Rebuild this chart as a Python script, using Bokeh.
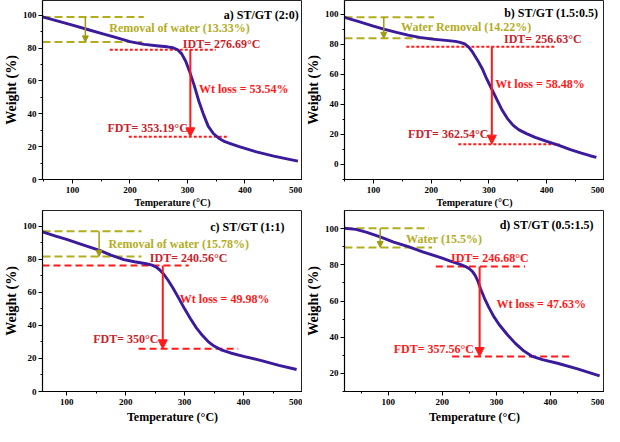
from bokeh.plotting import figure
from bokeh.models import Range1d, Label, Arrow, NormalHead, FixedTicker
from bokeh.layouts import column, row
from bokeh.embed import file_html
from bokeh.resources import INLINE

FONT = "Liberation Serif"
CURVE = "#3b1a9c"
OLIVE = "#b3ad1e"
OLIVE_ARROW = "#9f9a12"
RED = "#ff1a1a"
DARKRED = "#c8232c"

# ---------------- data ----------------
# a) ST/GT (2:0)
temp_a = [48, 75, 100, 125, 150, 175, 200, 225, 250, 265, 275, 283, 290, 297, 304, 312,
          320, 328, 336, 345, 355, 365, 377, 390, 420, 450, 475, 492]
wt_a = [99, 96.5, 94, 91.5, 89, 86.5, 84, 82.3, 81.3, 80.8, 80.2, 79, 76.5, 72, 65.5, 57,
        47.5, 39.5, 32.5, 28, 25, 23, 21.5, 20, 16.8, 14.2, 12.4, 11.2]
# b) ST/GT (1.5:0.5)
temp_b = [50, 75, 100, 118, 140, 160, 180, 202, 225, 242, 250, 258, 265, 272, 280, 288,
          296, 305, 314, 323, 332, 342, 352, 365, 380, 400, 420, 441, 460, 475, 486]
wt_b = [97.8, 95, 92, 90, 87.8, 86, 84.5, 83.3, 82.5, 81.8, 81.2, 80.2, 78, 74.5, 69.5, 64,
        57, 50, 43, 36, 30.5, 26, 23, 20.5, 18, 15.3, 12.8, 9.9, 7.5, 5.8, 4.7]
# c) ST/GT (1:1)
temp_c = [59, 80, 100, 125, 156, 175, 197, 215, 235, 245, 252, 258, 265, 272, 280, 290,
          300, 310, 320, 330, 340, 350, 362, 378, 400, 432, 460, 490]
wt_c = [96.5, 94.2, 92, 89, 85.4, 82.5, 79.8, 78.5, 77.3, 76.4, 75.2, 73.5, 70.8, 67.3, 62.8, 56.5,
        50, 44, 38.5, 34, 30.2, 27.5, 25.2, 23.3, 21.3, 18.5, 15.8, 13.3]
# d) ST/GT (0.5:1.5)
temp_d = [19, 40, 59, 85, 110, 137, 165, 197, 215, 233, 243, 250, 256, 261, 266, 271,
          278, 286, 295, 305, 320, 335, 350, 365, 385, 413, 450, 491]
wt_d = [100.2, 99.6, 98, 95.4, 92.5, 90, 87, 84, 82, 80.2, 79, 77.8, 76.2, 74, 70.8, 66.5,
        61.5, 56.5, 51.5, 47, 41.5, 36.6, 32.6, 29.6, 27.6, 25.6, 22.5, 18.6]

titles = ["a) ST/GT (2:0)", "b) ST/GT (1.5:0.5)", "c) ST/GT (1:1)", "d) ST/GT (0.5:1.5)"]
water_texts = ["Removal of water (13.33%)", "Water Removal (14.22%)",
               "Removal of water (15.78%)", "Water (15.5%)"]
idt_texts = ["IDT= 276.69°C", "IDT= 256.63°C", "IDT= 240.56°C", "IDT= 246.68°C"]
fdt_texts = ["FDT= 353.19°C", "FDT= 362.54°C", "FDT= 350°C", "FDT= 357.56°C"]
loss_texts = ["Wt loss = 53.54%", "Wt loss = 58.48%", "Wt loss = 49.98%", "Wt loss = 47.63%"]

# annotation levels / extents (data units)
water_top = [99, 97.8, 96.9, 100.2]
water_bot = [83.8, 83.9, 81.7, 89.6]
water_x0 = [48, 50, 59, 19]
water_x1_top = [224, 205, 227, 175]
water_x1_bot = [221, 205, 227, 181]
water_arrow_x = [122.5, 118, 155, 85]
water_text_x = [164, 148, 171, 133]
water_text_y = [92, 91.3, 89.4, 94]

idt_level = [79, 78.2, 76.3, 79.1]
idt_x0 = [165, 157, 59, 188]
idt_x1 = [349, 413, 307, 353]
idt_text_x = [292, 326, 241, 216]
idt_text_y = [82.5, 83.5, 80.5, 84]

fdt_level = [26, 13.5, 25.8, 29.3]
fdt_x0 = [198, 247, 222, 218]
fdt_x1 = [371, 422, 391, 437]
fdt_text_x = [161, 160, 145, 110]
fdt_text_y = [31.2, 20, 31.6, 33.5]

loss_arrow_x = [305, 305, 263, 269]
loss_text_x = [320, 311, 292, 300]
loss_text_y = [55, 53.4, 56, 58.2]

title_x = [494, 489, 470, 480]
title_y = [100.2, 100.8, 99.4, 102]

x_start = [48, 50, 59, 19]
x_end = 500
y_lo = [0, -10, 0, 10]
y_hi = [109, 109, 109.5, 110]

x_major = [100, 200, 300, 400, 500]
x_minor = [50, 150, 250, 350, 450]
y_major = [0, 20, 40, 60, 80, 100]
y_minor = [-10, 10, 30, 50, 70, 90]

idt_colors = [DARKRED, DARKRED, DARKRED, RED]
red_dash = ["3 2", "3 2", "7 4", "7 4"]


def build(i, temp, wt, width, height, left, xlab_size, tick_std, lab_std):
    p = figure(width=width, height=height, output_backend="svg", toolbar_location=None,
               x_range=Range1d(x_start[i], x_end), y_range=Range1d(y_lo[i], y_hi[i]),
               min_border_left=left, min_border_right=0, min_border_top=0,
               min_border_bottom=0)
    p.grid.visible = False
    p.outline_line_color = "#222222"
    p.outline_line_width = 1
    p.background_fill_color = "white"
    p.border_fill_color = "white"

    p.xaxis.ticker = FixedTicker(ticks=x_major, minor_ticks=x_minor)
    p.yaxis.ticker = FixedTicker(ticks=y_major, minor_ticks=y_minor)
    for ax in (p.xaxis, p.yaxis):
        ax.axis_line_color = "black"
        ax.axis_line_width = 1.2
        ax.major_tick_in = 0
        ax.major_tick_out = 4
        ax.minor_tick_in = 0
        ax.minor_tick_out = 2
        ax.major_tick_line_color = "black"
        ax.minor_tick_line_color = "black"
        ax.major_label_text_font = FONT
        ax.major_label_text_font_style = "bold"
        ax.major_label_text_font_size = "9px"
        ax.major_label_text_color = "black"
        ax.axis_label_text_font = FONT
        ax.axis_label_text_font_style = "bold"
        ax.axis_label_text_color = "black"
        ax.major_label_standoff = 2
        ax.axis_label_standoff = 1
    p.xaxis.major_label_standoff = tick_std
    p.xaxis.axis_label = "Temperature (°C)"
    p.xaxis.axis_label_text_font_size = xlab_size
    p.xaxis.axis_label_standoff = lab_std
    p.yaxis.axis_label = "Weight (%)"
    p.yaxis.axis_label_text_font_size = "14px"

    # water removal markers
    p.line([water_x0[i], water_x1_top[i]], [water_top[i], water_top[i]],
           line_color=OLIVE, line_width=2, line_dash="8 4")
    p.line([water_x0[i], water_x1_bot[i]], [water_bot[i], water_bot[i]],
           line_color=OLIVE, line_width=2, line_dash="8 4")
    p.add_layout(Arrow(end=NormalHead(size=6, fill_color=OLIVE_ARROW, line_color=OLIVE_ARROW),
                       x_start=water_arrow_x[i], y_start=water_top[i],
                       x_end=water_arrow_x[i], y_end=water_bot[i],
                       line_color=OLIVE_ARROW, line_width=1.5))
    # IDT / FDT markers
    p.line([idt_x0[i], idt_x1[i]], [idt_level[i], idt_level[i]],
           line_color=RED, line_width=2, line_dash=red_dash[i])
    p.line([fdt_x0[i], fdt_x1[i]], [fdt_level[i], fdt_level[i]],
           line_color=RED, line_width=2, line_dash=red_dash[i])

    # TGA curve
    p.line(temp, wt, line_color=CURVE, line_width=2.9, line_join="round")

    p.add_layout(Arrow(end=NormalHead(size=9, fill_color=RED, line_color=RED),
                       x_start=loss_arrow_x[i], y_start=idt_level[i],
                       x_end=loss_arrow_x[i], y_end=fdt_level[i],
                       line_color=RED, line_width=2))

    def lab(x, y, text, color, align="left"):
        p.add_layout(Label(x=x, y=y, text=text, text_font=FONT, text_font_style="bold",
                           text_font_size="12px", text_color=color,
                           text_baseline="middle", text_align=align))

    lab(water_text_x[i], water_text_y[i], water_texts[i], OLIVE)
    lab(idt_text_x[i], idt_text_y[i], idt_texts[i], idt_colors[i])
    lab(fdt_text_x[i], fdt_text_y[i], fdt_texts[i], idt_colors[i])
    lab(loss_text_x[i], loss_text_y[i], loss_texts[i], RED)
    lab(title_x[i], title_y[i], titles[i], "black", "right")
    return p


pa = build(0, temp_a, wt_a, 302, 210, 31, "10px", 3, 1)
pb = build(1, temp_b, wt_b, 302, 210, 33, "10px", 3, 1)
pc = build(2, temp_c, wt_c, 302, 216, 31, "12px", 3, 2)
pd = build(3, temp_d, wt_d, 302, 216, 33, "12px", 3, 2)

layout = column(row(pa, pb), row(pc, pd))

open("out.html", "w").write(file_html(layout, INLINE))
